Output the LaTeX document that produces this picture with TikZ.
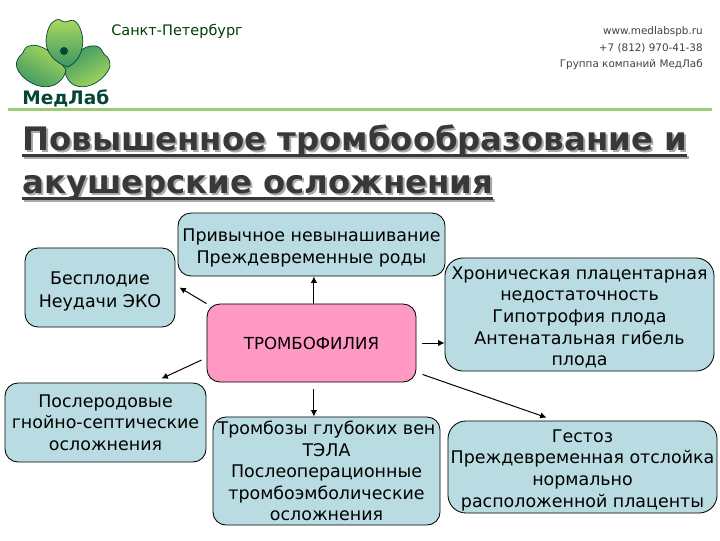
\documentclass[tikz,border=0pt]{standalone}
\usepackage{fontspec}
\setmainfont{DejaVu Sans}
\usetikzlibrary{arrows.meta, calc, positioning}
\definecolor{boxblue}{RGB}{185, 220, 226}
\definecolor{boxpink}{RGB}{255, 153, 196}
\definecolor{rulegreen}{RGB}{156, 203, 120}
\definecolor{logodark}{RGB}{6, 70, 52}
\definecolor{logolight}{RGB}{172, 218, 92}
\definecolor{logodeep}{RGB}{58, 150, 100}
\definecolor{titlegray}{RGB}{56, 56, 56}
\definecolor{shadegray}{RGB}{170, 170, 170}
\tikzset{
	box/.style={draw, line width=0.6pt, rounded corners=0.325cm, fill=boxblue, align=center, inner sep=0pt, font=\fontsize{12.4}{15.4}\selectfont},
	bigbox/.style={box, rounded corners=0.45cm},
	trombobox/.style={box, fill=boxpink, font=\fontsize{11.8}{14}\selectfont},
	line/.style={draw, -{Latex[length=4.5pt,width=4.5pt]}, line width=0.7pt},
	titletext/.style={anchor=base west, inner sep=0pt, font=\fontsize{23}{28}\selectfont\bfseries},
	headtext/.style={anchor=base east, inner sep=0pt, text=black!75, font=\fontsize{7.4}{10}\selectfont},
	petal/.style={draw=logodark, line width=0.5pt}
}
\newcommand{\titlea}{Повышенное тромбообразование и}
\newcommand{\titleb}{акушерские осложнения}
\newcommand{\topgap}[1]{\rule{0pt}{#1}}

\begin{document}
\begin{tikzpicture}[x=0.025cm,y=-0.025cm]
	\useasboundingbox (0,0) rectangle (720,540);
	% logo
	\draw[petal, left color=logodeep, right color=logolight, shading angle=30]
		(64,68) .. controls (72,56) and (84,44) .. (96,46) .. controls (101,47) and (102,51) .. (104,54)
		.. controls (110,58) and (112,64) .. (108,71) .. controls (100,84) and (84,90) .. (74,85)
		.. controls (68,82) and (65,75) .. (64,68) -- cycle;
	\draw[petal, left color=logolight, right color=logodeep, shading angle=-30]
		(66,70) .. controls (56,54) and (40,42) .. (29,46) .. controls (24,47) and (24,52) .. (22,54)
		.. controls (15,60) and (15,66) .. (19,72) .. controls (27,84) and (44,90) .. (54,85)
		.. controls (61,82) and (65,76) .. (66,70) -- cycle;
	\draw[petal, top color=logolight, bottom color=logodeep]
		(68,67) .. controls (56,64) and (45,52) .. (46,40) .. controls (47,30) and (50,22) .. (56,20)
		.. controls (60,18) and (62,22) .. (65,22) .. controls (68,22) and (72,18) .. (76,22)
		.. controls (82,28) and (84,40) .. (82,48) .. controls (80,58) and (74,64) .. (68,67) -- cycle;
	\fill[logodark] (64,51) circle (4);
	\node[anchor=base west, inner sep=0pt, text=logodark, font=\fontsize{13.2}{16}\selectfont\bfseries] (logoname) at (22,104) {МедЛаб};
	\node[anchor=base west, inner sep=0pt, text=black!65!green!70!black, font=\fontsize{10.3}{12}\selectfont] (city) at (111,35) {Санкт-Петербург};
	% header
	\node[headtext] (site) at (703,34) {www.medlabspb.ru};
	\node[headtext] (phone) at (703,51) {+7 (812) 970-41-38};
	\node[headtext] (group) at (703,67) {Группа компаний МедЛаб};
	\fill[rulegreen] (8,108) rectangle (712,111);
	% title
	\node[titletext, text=shadegray] (titleashadow) at (24,152) {\titlea};
	\node[titletext, text=shadegray] (titlebshadow) at (24,195) {\titleb};
	\fill[shadegray] ([yshift=-0.1cm]titleashadow.base west) rectangle ([yshift=-0.175cm]titleashadow.base east);
	\fill[shadegray] ([yshift=-0.1cm]titlebshadow.base west) rectangle ([yshift=-0.175cm]titlebshadow.base east);
	\node[titletext, text=titlegray] (titlea) at (22,150) {\titlea};
	\node[titletext, text=titlegray] (titleb) at (22,193) {\titleb};
	\fill[titlegray] ([yshift=-0.1cm]titlea.base west) rectangle ([yshift=-0.175cm]titlea.base east);
	\fill[titlegray] ([yshift=-0.1cm]titleb.base west) rectangle ([yshift=-0.175cm]titleb.base east);
	% boxes
	\node[box, minimum width=6.675cm, minimum height=1.575cm] (privych) at (311.5,244.5) {\topgap{13.5pt}Привычное невынашивание\\Преждевременные роды};
	\node[box, minimum width=3.75cm, minimum height=1.975cm] (bespl) at (100,287.5) {\topgap{14.5pt}Бесплодие\\[1.5pt]Неудачи ЭКО};
	\node[trombobox, minimum width=5.225cm, minimum height=1.95cm] (thromb) at (311.5,343) {ТРОМБОФИЛИЯ};
	\node[box, minimum width=5.025cm, minimum height=1.975cm] (poslerod) at (105.5,422.5) {Послеродовые\\гнойно-септические\\осложнения};
	\node[box, minimum width=5.675cm, minimum height=2.7cm] (tromboz) at (326.5,471) {Тромбозы глубоких вен\\ТЭЛА\\Послеоперационные\\тромбоэмболические\\осложнения};
	\node[bigbox, minimum width=6.725cm, minimum height=2.825cm] (hron) at (579.5,314.5) {\topgap{13pt}Хроническая плацентарная\\недостаточность\\Гипотрофия плода\\Антенатальная гибель\\плода};
	\node[bigbox, minimum width=6.725cm, minimum height=2.3cm] (gestoz) at (582.5,467) {\topgap{13.5pt}Гестоз\\Преждевременная отслойка\\нормально\\расположенной плаценты};
	% arrows
	\draw[line] (thromb.north west) -- ([xshift=0.1cm]bespl.east);
	\draw[line] ([xshift=0.06cm]thromb.north) -- ([xshift=0.06cm]privych.south);
	\draw[line, shorten <=0.15cm] (thromb.east) -- (hron.west |- thromb.east);
	\draw[line, shorten <=0.175cm] ([xshift=0.06cm]thromb.south) -- ([xshift=0.06cm]thromb.south |- tromboz.north);
	\draw[line] ([xshift=-0.125cm,yshift=-0.425cm]thromb.west) -- ([xshift=1.4cm,yshift=0.1cm]poslerod.north);
	\draw[line] ([xshift=0.15cm,yshift=0.2cm]thromb.south east) -- ([xshift=-0.9cm,yshift=0.075cm]gestoz.north);
\end{tikzpicture}
\end{document}
